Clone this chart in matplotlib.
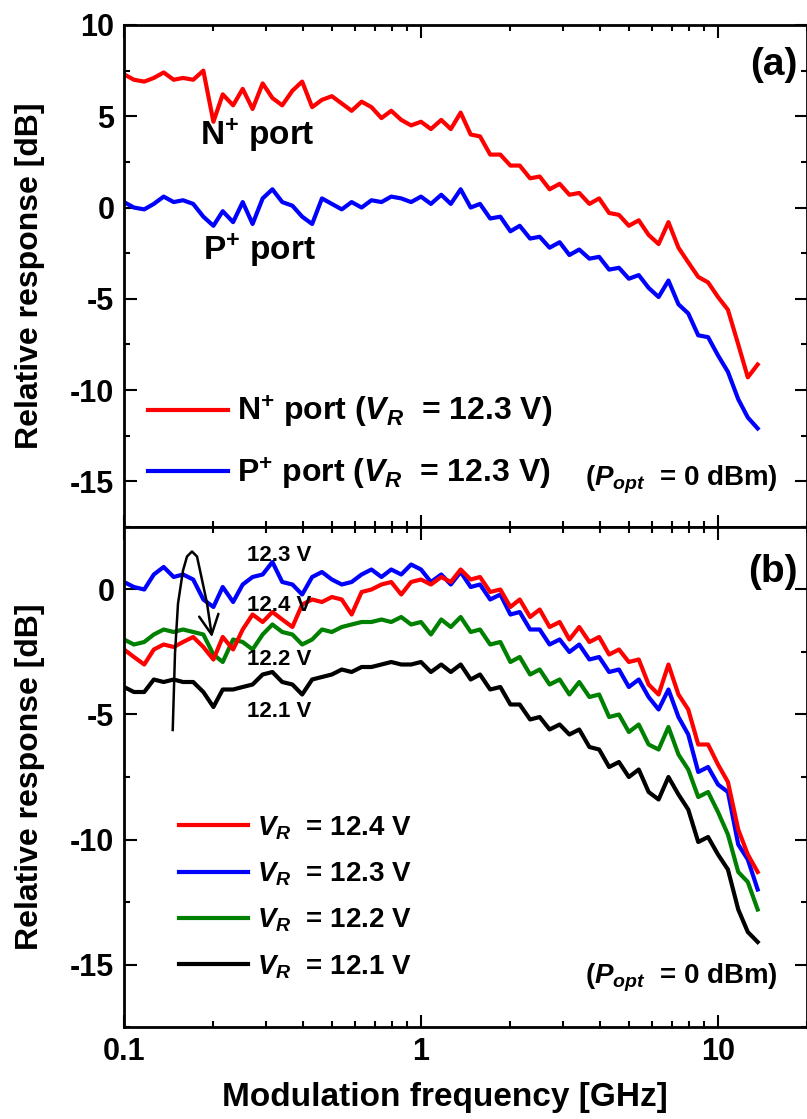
import matplotlib
matplotlib.use('Agg')
import matplotlib.pyplot as plt
from matplotlib.ticker import MultipleLocator, FuncFormatter, NullFormatter

# modulation frequency grid [GHz]
freq_ghz = [0.100, 0.108, 0.117, 0.126, 0.136, 0.147, 0.158, 0.171, 0.185, 0.200,
            0.215, 0.233, 0.251, 0.271, 0.293, 0.316, 0.341, 0.369, 0.398, 0.430,
            0.464, 0.501, 0.541, 0.584, 0.631, 0.681, 0.736, 0.794, 0.858, 0.926,
            1.00, 1.08, 1.17, 1.26, 1.36, 1.47, 1.58, 1.71, 1.85, 2.00,
            2.15, 2.33, 2.51, 2.71, 2.93, 3.16, 3.41, 3.69, 3.98, 4.30,
            4.64, 5.01, 5.41, 5.84, 6.31, 6.81, 7.36, 7.94, 8.58, 9.26,
            10.0, 10.8, 11.7, 12.6, 13.6]

# (a) N+ / P+ port response at VR = 12.3 V [dB]
nplus_db = [7.3, 7.0, 6.9, 7.1, 7.4, 7.0, 7.1, 7.0, 7.5, 4.7,
            6.2, 5.6, 6.5, 5.4, 6.8, 6.0, 5.6, 6.4, 6.9, 5.5,
            5.9, 6.1, 5.7, 5.3, 5.8, 5.5, 4.9, 5.3, 4.8, 4.5,
            4.7, 4.3, 4.8, 4.3, 5.2, 4.0, 3.9, 2.9, 2.9, 2.3,
            2.3, 1.6, 1.7, 1.0, 1.3, 0.7, 0.8, 0.2, 0.5, -0.3,
            -0.4, -1.0, -0.7, -1.5, -2.0, -0.8, -2.2, -3.0, -3.8, -4.1,
            -4.9, -5.6, -7.5, -9.3, -8.6]
pplus_db = [0.3, 0.0, -0.1, 0.2, 0.6, 0.3, 0.4, 0.2, -0.5, -1.0,
            -0.2, -0.8, 0.3, -0.9, 0.5, 1.0, 0.3, 0.1, -0.5, -0.9,
            0.5, 0.2, -0.1, 0.3, 0.0, 0.4, 0.3, 0.6, 0.5, 0.3,
            0.6, 0.2, 0.7, 0.2, 1.0, 0.0, 0.2, -0.6, -0.5, -1.3,
            -1.0, -1.7, -1.6, -2.2, -1.9, -2.6, -2.3, -2.8, -2.7, -3.4,
            -3.3, -3.9, -3.7, -4.4, -4.9, -4.0, -5.3, -5.8, -7.0, -7.1,
            -8.1, -9.0, -10.5, -11.5, -12.1]

# (b) N+ port response for different reverse bias [dB]
vr124_db = [-2.4, -2.7, -3.0, -2.4, -2.2, -2.3, -2.1, -1.9, -2.3, -2.8,
            -1.9, -2.4, -1.6, -1.0, -1.3, -0.9, -1.2, -1.5, -0.6, -0.4,
            -0.5, -0.3, -0.4, -1.0, -0.1, 0.0, 0.2, 0.3, -0.2, 0.3,
            0.4, 0.2, 0.5, 0.3, 0.8, 0.4, 0.5, -0.1, 0.0, -0.7,
            -0.4, -1.1, -0.8, -1.5, -1.3, -2.0, -1.5, -2.1, -1.9, -2.6,
            -2.4, -2.9, -2.8, -3.8, -4.2, -3.0, -4.2, -4.8, -6.2, -6.2,
            -7.0, -7.7, -9.6, -10.6, -11.3]
vr123_db = [0.3, 0.1, 0.0, 0.6, 0.9, 0.5, 0.6, 0.4, -0.4, -0.7,
            0.1, -0.5, 0.2, 0.5, 0.6, 1.1, 0.3, 0.2, -0.2, 0.5,
            0.7, 0.4, 0.2, 0.3, 0.6, 0.8, 0.5, 0.8, 0.6, 1.0,
            0.8, 0.3, 0.6, 0.2, 0.7, 0.1, 0.2, -0.4, -0.2, -1.0,
            -0.9, -1.6, -1.6, -2.2, -2.0, -2.5, -2.2, -2.8, -2.7, -3.3,
            -3.2, -3.9, -3.6, -4.3, -4.8, -4.0, -5.1, -5.8, -7.3, -7.1,
            -7.8, -8.1, -10.2, -10.8, -12.0]
vr122_db = [-2.0, -2.2, -2.1, -1.8, -1.6, -1.7, -1.6, -1.7, -1.8, -2.6,
            -2.9, -2.0, -2.1, -2.4, -1.8, -1.4, -1.7, -1.8, -2.2, -2.0,
            -1.6, -1.7, -1.5, -1.4, -1.3, -1.3, -1.2, -1.3, -1.1, -1.4,
            -1.3, -1.8, -1.2, -1.5, -1.1, -1.7, -1.6, -2.2, -2.1, -2.9,
            -2.7, -3.4, -3.2, -3.8, -3.6, -4.2, -3.7, -4.3, -4.2, -5.1,
            -5.0, -5.7, -5.4, -6.2, -6.4, -5.5, -6.6, -7.2, -8.3, -8.1,
            -8.9, -9.8, -11.3, -11.7, -12.8]
vr121_db = [-3.9, -4.1, -4.1, -3.6, -3.7, -3.6, -3.7, -3.7, -4.1, -4.7,
            -4.0, -4.0, -3.9, -3.8, -3.4, -3.3, -3.7, -3.8, -4.2, -3.6,
            -3.5, -3.4, -3.2, -3.3, -3.1, -3.1, -3.0, -2.9, -3.0, -3.0,
            -2.9, -3.3, -3.0, -3.3, -3.0, -3.6, -3.4, -4.0, -3.9, -4.6,
            -4.6, -5.2, -5.1, -5.6, -5.4, -5.8, -5.6, -6.3, -6.4, -7.1,
            -6.9, -7.5, -7.2, -8.1, -8.4, -7.5, -8.2, -8.8, -10.1, -9.9,
            -10.6, -11.2, -12.8, -13.7, -14.1]

# curved arrow in (b)
arrow_f = [0.1459, 0.1485, 0.1520, 0.1580, 0.1630, 0.1694, 0.1761, 0.1803, 0.1904]
arrow_v = [-5.62, -2.55, -0.56, 0.76, 1.32, 1.52, 1.32, 0.76, -0.56]
arrow_tip = (0.1979, -1.91)

plt.rcParams['font.family'] = ['Liberation Sans', 'DejaVu Sans']
plt.rcParams['font.weight'] = 'bold'
plt.rcParams['mathtext.fontset'] = 'custom'
plt.rcParams['mathtext.rm'] = 'Liberation Sans:bold'
plt.rcParams['mathtext.it'] = 'Liberation Sans:italic:bold'
plt.rcParams['mathtext.bf'] = 'Liberation Sans:bold'
plt.rcParams['axes.unicode_minus'] = False
plt.rcParams['axes.linewidth'] = 2.0

fig = plt.figure(figsize=(8.07, 11.19), dpi=100)
ax1 = fig.add_axes([124 / 807, 1 - 527 / 1119, 683.4 / 807, 502 / 1119])
ax2 = fig.add_axes([124 / 807, 1 - 1027 / 1119, 683.4 / 807, 500 / 1119])


def style(ax, ymin, ymax):
    ax.set_xscale('log')
    ax.set_xlim(0.1, 20)
    ax.set_ylim(ymin, ymax)
    ax.yaxis.set_major_locator(MultipleLocator(5))
    ax.yaxis.set_minor_locator(MultipleLocator(2.5))
    ax.xaxis.set_major_formatter(FuncFormatter(lambda v, p: f'{v:g}'))
    ax.xaxis.set_minor_formatter(NullFormatter())
    ax.tick_params(which='both', direction='in', top=True, right=True,
                   width=1.5, labelsize=22, pad=7)
    ax.tick_params(which='major', length=9)
    ax.tick_params(which='minor', length=4.5)
    ax.set_ylabel('Relative response [dB]', fontsize=23, fontweight='bold')
    ax.yaxis.set_label_coords(-0.115, 0.5)


# (a)
ax1.plot(freq_ghz, nplus_db, color='#ff0000', lw=3.0,
         label=r'N$^{+}$ port ($V_R$  = 12.3 V)')
ax1.plot(freq_ghz, pplus_db, color='#0000ff', lw=3.0,
         label=r'P$^{+}$ port ($V_R$  = 12.3 V)')
style(ax1, -17.5, 10)
ax1.tick_params(labelbottom=False)
ax1.legend(loc='upper left', bbox_to_anchor=(0.035, 0.265), frameon=False,
           fontsize=23, handlelength=2.5, handletextpad=0.28, labelspacing=0.79,
           borderpad=0, borderaxespad=0)
ax1.text(0.111, 0.781, r'N$^{+}$ port', transform=ax1.transAxes, fontsize=24,
         ha='left', va='center')
ax1.text(0.115, 0.552, r'P$^{+}$ port', transform=ax1.transAxes, fontsize=24,
         ha='left', va='center')
ax1.text(0.985, 0.92, '(a)', transform=ax1.transAxes, fontsize=28,
         ha='right', va='center')
ax1.text(0.957, 0.094, r'($P_{opt}$  = 0 dBm)', transform=ax1.transAxes,
         fontsize=20, ha='right', va='center')

# (b)
l121, = ax2.plot(freq_ghz, vr121_db, color='black', lw=3.0, label=r'$V_R$  = 12.1 V')
l122, = ax2.plot(freq_ghz, vr122_db, color='#008000', lw=3.0, label=r'$V_R$  = 12.2 V')
l123, = ax2.plot(freq_ghz, vr123_db, color='#0000ff', lw=3.0, label=r'$V_R$  = 12.3 V')
l124, = ax2.plot(freq_ghz, vr124_db, color='#ff0000', lw=3.0, label=r'$V_R$  = 12.4 V')
style(ax2, -17.5, 2.5)
ax2.set_xlabel('Modulation frequency [GHz]', fontsize=24, fontweight='bold')
ax2.xaxis.set_label_coords(0.47, -0.11)
ax2.legend(handles=[l124, l123, l122, l121], loc='upper left',
           bbox_to_anchor=(0.0805, 0.426), frameon=False, fontsize=20,
           handlelength=2.48, handletextpad=0.32, labelspacing=0.68,
           borderpad=0, borderaxespad=0)
ax2.text(0.985, 0.91, '(b)', transform=ax2.transAxes, fontsize=28,
         ha='right', va='center')
ax2.text(0.957, 0.098, r'($P_{opt}$  = 0 dBm)', transform=ax2.transAxes,
         fontsize=20, ha='right', va='center')
for txt, v in [('12.3 V', 1.36), ('12.4 V', -0.64), ('12.2 V', -2.8), ('12.1 V', -4.87)]:
    ax2.text(0.26, v, txt, fontsize=16, ha='left', va='center')

ax2.plot(arrow_f, arrow_v, color='black', lw=1.8)
ax2.annotate('', xy=arrow_tip, xytext=(arrow_f[-1], arrow_v[-1]),
             arrowprops=dict(arrowstyle='->,head_length=0.7,head_width=0.35',
                             lw=1.8, color='black', mutation_scale=20,
                             shrinkA=0, shrinkB=0))

fig.savefig('out.png', dpi=100)
